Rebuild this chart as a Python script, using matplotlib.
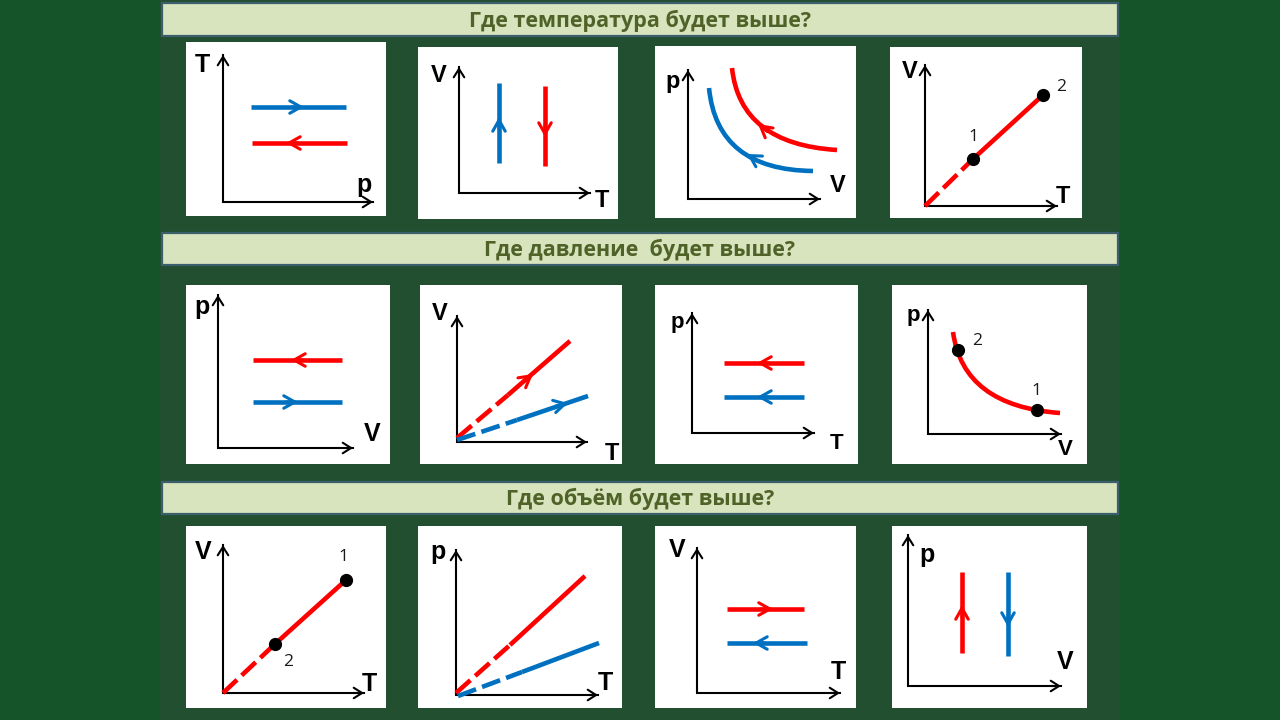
import matplotlib
matplotlib.use("Agg")
import matplotlib.pyplot as plt
from matplotlib.patches import Rectangle, PathPatch
from matplotlib.path import Path

# ============================ DATA ============================
titles = ["Где температура будет выше?",
          "Где давление  будет выше?",
          "Где объём будет выше?"]

# (x-axis label, y-axis label) of each small diagram
axis_labels = [("p", "T"), ("T", "V"), ("V", "p"), ("T", "V"),
               ("V", "p"), ("T", "V"), ("T", "p"), ("V", "p"),
               ("T", "V"), ("T", "p"), ("T", "V"), ("V", "p")]

# values in schematic units, origin at the corner of each diagram's axes
# Panel 1 (T-p)
p1_blue_x = [28, 123]; p1_blue_y = [95, 95]
p1_red_x = [29, 124];  p1_red_y = [59, 59]
p1_blue_arrow = [81, 95, 1, 0]
p1_red_arrow = [63, 59, -1, 0]
# Panel 2 (V-T)
p2_blue_x = [40, 40]; p2_blue_y = [30, 110]
p2_red_x = [86, 86];  p2_red_y = [27, 107]
p2_blue_arrow = [40, 76, 0, 1]
p2_red_arrow = [86, 56, 0, -1]
# Panel 3 (p-V): isotherms as (start, bend, end) of a smooth curve
p3_red_x = [44, 52, 149];  p3_red_y = [131, 55, 49]
p3_blue_x = [21, 29, 125]; p3_blue_y = [111, 29, 28]
p3_red_arrow = [70, 75, -15, 12]
p3_blue_arrow = [59, 45, -18, 11]
# Panel 4 (V-T)
p4_red_x = [0, 48, 118]; p4_red_y = [0, 47, 111]
p4_point_labels = ["1", "2"]
# Panel 5 (p-V)
p5_red_x = [35, 124];  p5_red_y = [88, 88]
p5_blue_x = [35, 124]; p5_blue_y = [46, 46]
p5_red_arrow = [73, 88, -1, 0]
p5_blue_arrow = [80, 46, 1, 0]
# Panel 6 (V-T)
p6_red_x = [0, 51, 113];  p6_red_y = [4, 47, 101]
p6_blue_x = [0, 60, 131]; p6_blue_y = [2, 22, 46]
p6_red_arrow = [76, 68, 113, 97]
p6_blue_arrow = [111, 39, 131, 44]
# Panel 7 (p-T)
p7_red_x = [32, 112];  p7_red_y = [70, 70]
p7_blue_x = [32, 112]; p7_blue_y = [36, 36]
p7_red_arrow = [65, 70, -1, 0]
p7_blue_arrow = [65, 36, -1, 0]
# Panel 8 (p-V): isotherm (start, bend, end) and the two states on it
p8_red_x = [25, 35, 132]; p8_red_y = [102, 28, 21]
p8_states_x = [109, 30]; p8_states_y = [24, 84]
p8_point_labels = ["1", "2"]
# Panel 9 (V-T)
p9_red_x = [0, 52, 123]; p9_red_y = [0, 49, 113]
p9_point_labels = ["2", "1"]
# Panel 10 (p-T)
p10_red_x = [0, 54, 129];  p10_red_y = [2, 50, 119]
p10_blue_x = [2, 66, 143]; p10_blue_y = [-1, 23, 52]
# Panel 11 (V-T)
p11_red_x = [30, 107];  p11_red_y = [84, 84]
p11_blue_x = [30, 110]; p11_blue_y = [50, 50]
p11_red_arrow = [76, 84, 1, 0]
p11_blue_arrow = [56, 50, -1, 0]
# Panel 12 (p-V)
p12_red_x = [54, 54];   p12_red_y = [33, 114]
p12_blue_x = [100, 100]; p12_blue_y = [30, 114]
p12_red_arrow = [54, 81, 0, 1]
p12_blue_arrow = [100, 59, 0, -1]

# ============================ LAYOUT / STYLE ============================
FIG_W, FIG_H = 1280, 720
panel_boxes = [(186, 42, 386, 216), (418, 47, 618, 219), (655, 46, 856, 218), (890, 47, 1082, 218),
               (186, 285, 390, 464), (420, 285, 622, 464), (655, 285, 858, 464), (892, 285, 1087, 464),
               (186, 526, 386, 708), (418, 526, 622, 708), (655, 526, 856, 708), (892, 526, 1087, 708)]
panel_origins = [(223, 202), (459, 193), (688, 199), (925, 206),
                 (218, 448), (457, 442), (692, 433), (928, 434),
                 (223, 693), (456, 695), (697, 693), (908, 686)]
axis_len = [(150, 147), (131, 126), (132, 129), (132, 141),
            (135, 153), (130, 126), (122, 120), (133, 124),
            (141, 148), (142, 145), (143, 145), (153, 151)]
xlabel_pos = [(141, 10), (143, -14), (150, 7), (138, 3),
              (154, 7), (155, -18), (145, -16), (137, -21),
              (146, 2), (149, 5), (141, 14), (157, 17)]
ylabel_pos = [(-21, 130), (-20, 111), (-15, 111), (-15, 128),
              (-16, 134), (-17, 122), (-15, 105), (-15, 113),
              (-20, 134), (-18, 136), (-20, 136), (19, 124)]
label_size = [18, 17, 17, 17, 18, 17, 16, 16, 18, 18, 18, 18]
title_bars = [(3, 36), (233, 265), (482, 514)]

RED = "#ff0000"
BLUE = "#0070c0"
LW = 3.3
DASH = (0, (4.2, 1.4))
BG = "#145428"
MARBLE = "#234f31"
BAR_FC = "#d7e4bd"
BAR_EC = "#3c5f6e"
TITLE_C = "#4f6228"

fig = plt.figure(figsize=(12.8, 7.2), dpi=100)
fig.patch.set_facecolor(BG)

canvas = fig.add_axes([0, 0, 1, 1])
canvas.set_xlim(0, FIG_W)
canvas.set_ylim(FIG_H, 0)
canvas.axis("off")
canvas.add_patch(Rectangle((160, 0), 960, FIG_H, fc=MARBLE, ec="none"))
for (t0, t1), title in zip(title_bars, titles):
    canvas.add_patch(Rectangle((162, t0), 956, t1 - t0, fc=BAR_FC, ec=BAR_EC, lw=1.6))
    canvas.text(640, (t0 + t1) / 2 + 1, title, ha="center", va="center",
                fontsize=15.5, fontweight="bold", color=TITLE_C, family="Open Sans")


def make_panel(i):
    L, T, R, B = panel_boxes[i]
    ox, oy = panel_origins[i]
    ax = fig.add_axes([L / FIG_W, 1 - B / FIG_H, (R - L) / FIG_W, (B - T) / FIG_H])
    ax.set_facecolor("white")
    ax.set_xlim(L - ox, R - ox)
    ax.set_ylim(oy - B, oy - T)
    ax.set_xticks([]); ax.set_yticks([])
    for s in ax.spines.values():
        s.set_visible(False)
    lx, ly = axis_len[i]
    ax.plot([0, 0, lx], [ly, 0, 0], color="black", lw=1.5, solid_joinstyle="miter", zorder=2)
    head = dict(arrowstyle="->,head_length=0.6,head_width=0.38", lw=1.5, color="black",
                shrinkA=0, shrinkB=0, mutation_scale=10)
    ax.annotate("", xy=(lx, 0), xytext=(lx - 10, 0), arrowprops=head, zorder=2)
    ax.annotate("", xy=(0, ly), xytext=(0, ly - 10), arrowprops=head, zorder=2)
    xl, yl = axis_labels[i]
    ax.text(*xlabel_pos[i], xl, ha="center", va="baseline", fontsize=label_size[i],
            fontweight="bold", family="Liberation Sans")
    ax.text(*ylabel_pos[i], yl, ha="center", va="baseline", fontsize=label_size[i],
            fontweight="bold", family="Liberation Sans")
    return ax


def solid(ax, xs, ys, color):
    ax.plot(xs, ys, color=color, lw=LW, solid_capstyle="butt", solid_joinstyle="round", zorder=3)


def curve(ax, xs, ys, color):
    path = Path(list(zip(xs, ys)), [Path.MOVETO, Path.CURVE3, Path.CURVE3])
    ax.add_patch(PathPatch(path, fill=False, ec=color, lw=LW, capstyle="butt", zorder=3))


def dashed_then_solid(ax, xs, ys, color):
    ax.plot(xs[:2], ys[:2], color=color, lw=LW, ls=DASH, dash_capstyle="butt", zorder=3)
    ax.plot(xs[1:], ys[1:], color=color, lw=LW, solid_capstyle="butt", zorder=3)


def mid_arrow(ax, spec, color, dir_is_point=False):
    tx, ty, dx, dy = spec
    if dir_is_point:
        dx, dy = dx - tx, dy - ty
    n = (dx * dx + dy * dy) ** 0.5
    ax.annotate("", xy=(tx, ty), xytext=(tx - dx / n * 12, ty - dy / n * 12),
                arrowprops=dict(arrowstyle="->,head_length=0.8,head_width=0.45", lw=2.2,
                                color=color, shrinkA=0, shrinkB=0, mutation_scale=10),
                zorder=4)


def dots(ax, xs, ys, labels, label_pos):
    ax.plot(xs, ys, "o", color="black", ms=8.5, zorder=5)
    for lab, (px, py) in zip(labels, label_pos):
        ax.text(px, py, lab, ha="center", va="center", fontsize=12.5,
                family="Open Sans", color="#1a1a1a")


axes = [make_panel(i) for i in range(12)]

# Panel 1
solid(axes[0], p1_blue_x, p1_blue_y, BLUE); mid_arrow(axes[0], p1_blue_arrow, BLUE)
solid(axes[0], p1_red_x, p1_red_y, RED); mid_arrow(axes[0], p1_red_arrow, RED)
# Panel 2
solid(axes[1], p2_blue_x, p2_blue_y, BLUE); mid_arrow(axes[1], p2_blue_arrow, BLUE)
solid(axes[1], p2_red_x, p2_red_y, RED); mid_arrow(axes[1], p2_red_arrow, RED)
# Panel 3
curve(axes[2], p3_red_x, p3_red_y, RED); mid_arrow(axes[2], p3_red_arrow, RED)
curve(axes[2], p3_blue_x, p3_blue_y, BLUE); mid_arrow(axes[2], p3_blue_arrow, BLUE)
# Panel 4
dashed_then_solid(axes[3], p4_red_x, p4_red_y, RED)
dots(axes[3], p4_red_x[1:], p4_red_y[1:], p4_point_labels, [(48, 69), (136, 119)])
# Panel 5
solid(axes[4], p5_red_x, p5_red_y, RED); mid_arrow(axes[4], p5_red_arrow, RED)
solid(axes[4], p5_blue_x, p5_blue_y, BLUE); mid_arrow(axes[4], p5_blue_arrow, BLUE)
# Panel 6
dashed_then_solid(axes[5], p6_red_x, p6_red_y, RED); mid_arrow(axes[5], p6_red_arrow, RED, True)
dashed_then_solid(axes[5], p6_blue_x, p6_blue_y, BLUE); mid_arrow(axes[5], p6_blue_arrow, BLUE, True)
# Panel 7
solid(axes[6], p7_red_x, p7_red_y, RED); mid_arrow(axes[6], p7_red_arrow, RED)
solid(axes[6], p7_blue_x, p7_blue_y, BLUE); mid_arrow(axes[6], p7_blue_arrow, BLUE)
# Panel 8
curve(axes[7], p8_red_x, p8_red_y, RED)
dots(axes[7], p8_states_x, p8_states_y, p8_point_labels, [(108, 43), (49, 93)])
# Panel 9
dashed_then_solid(axes[8], p9_red_x, p9_red_y, RED)
dots(axes[8], p9_red_x[1:], p9_red_y[1:], p9_point_labels, [(65, 31), (120, 136)])
# Panel 10
dashed_then_solid(axes[9], p10_red_x, p10_red_y, RED)
dashed_then_solid(axes[9], p10_blue_x, p10_blue_y, BLUE)
# Panel 11
solid(axes[10], p11_red_x, p11_red_y, RED); mid_arrow(axes[10], p11_red_arrow, RED)
solid(axes[10], p11_blue_x, p11_blue_y, BLUE); mid_arrow(axes[10], p11_blue_arrow, BLUE)
# Panel 12
solid(axes[11], p12_red_x, p12_red_y, RED); mid_arrow(axes[11], p12_red_arrow, RED)
solid(axes[11], p12_blue_x, p12_blue_y, BLUE); mid_arrow(axes[11], p12_blue_arrow, BLUE)

fig.savefig("out.png", dpi=100, facecolor=fig.get_facecolor())
